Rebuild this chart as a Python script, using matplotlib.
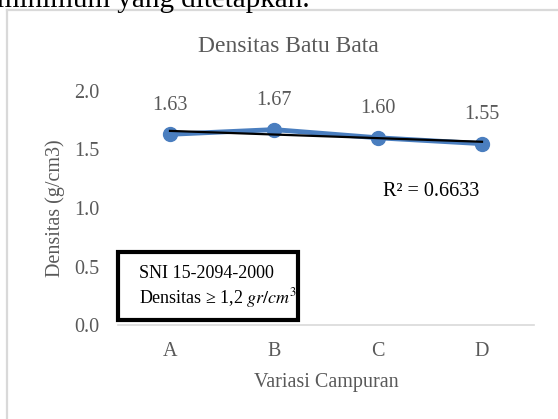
import numpy as np
import matplotlib
matplotlib.use('Agg')
import matplotlib.pyplot as plt
from matplotlib.lines import Line2D
from matplotlib.patches import Rectangle

# data
categories = ['A', 'B', 'C', 'D']
densitas = [1.63, 1.67, 1.60, 1.55]
value_labels = ['1.63', '1.67', '1.60', '1.55']
r2_label = 'R² = 0.6633'

plt.rcParams['font.family'] = ['Liberation Serif', 'DejaVu Serif']
plt.rcParams['mathtext.fontset'] = 'stix'

W, H = 558, 419
fig = plt.figure(figsize=(W / 100, H / 100), dpi=100)

# cropped caption text at the very top of the picture
fig.text(-0.005, 1 - 7 / H, 'minimum yang ditetapkan.', fontsize=21,
         color='black', ha='left', va='baseline')

# chart frame (only left and top edges visible)
frame_c = '#d9d9d9'
fig.add_artist(Line2D([7 / W, 7 / W], [0, 1 - 10 / H], color=frame_c, lw=1.6))
fig.add_artist(Line2D([7 / W, 1], [1 - 10 / H, 1 - 10 / H], color=frame_c, lw=1.6))

ax = fig.add_axes([118 / W, 1 - 325 / H, (534 - 118) / W, (325 - 91) / H])
x = np.arange(1, len(categories) + 1)

ax.plot(x, densitas, color='#4a7ebf', lw=3.5, marker='o', ms=10, zorder=3)

# linear trendline
k, b = np.polyfit(x, densitas, 1)
ax.plot(x, k * x + b, color='black', lw=1.6, zorder=4)

grey = '#595959'
for xi, yi, lab in zip(x, densitas, value_labels):
    ax.annotate(lab, (xi, yi), xytext=(0, 21), textcoords='offset points',
                ha='center', va='center', fontsize=14.5, color=grey)

ax.text(3.05, 1.137, r2_label, fontsize=14.5, color='black',
        ha='left', va='center')

ax.set_xlim(0.5, 4.5)
ax.set_ylim(0, 2.0)
ax.set_xticks(x)
ax.set_xticklabels(categories)
ax.set_yticks([0, 0.5, 1.0, 1.5, 2.0])
ax.set_yticklabels(['0.0', '0.5', '1.0', '1.5', '2.0'])
ax.tick_params(length=0, labelsize=14.5, labelcolor=grey)
ax.tick_params(axis='y', pad=13.5)
ax.tick_params(axis='x', pad=12)
for s in ['top', 'right', 'left']:
    ax.spines[s].set_visible(False)
ax.spines['bottom'].set_color('#d9d9d9')
ax.spines['bottom'].set_linewidth(1.2)
ax.patch.set_alpha(0)

fig.text(288 / W, 1 - 46 / H, 'Densitas Batu Bata', fontsize=17,
         color=grey, ha='center', va='center')
fig.text(326 / W, 1 - 382 / H, 'Variasi Campuran', fontsize=14.5,
         color=grey, ha='center', va='center')
fig.text(55 / W, 1 - 208 / H, 'Densitas (g/cm3)', fontsize=14.5,
         color=grey, ha='center', va='center', rotation=90)

# SNI standard box
fig.add_artist(Rectangle((118 / W, 1 - 320 / H), 180 / W, 68 / H,
                         transform=fig.transFigure, facecolor='white',
                         edgecolor='black', lw=3, zorder=5))
fig.text(139 / W, 1 - 273 / H, 'SNI 15-2094-2000', fontsize=13,
         color='black', ha='left', va='center', zorder=6)
fig.text(139 / W, 1 - 298 / H, r'Densitas ≥ 1,2 $gr/cm^3$', fontsize=13,
         color='black', ha='left', va='center', zorder=6)

fig.savefig('out.png', dpi=100)
